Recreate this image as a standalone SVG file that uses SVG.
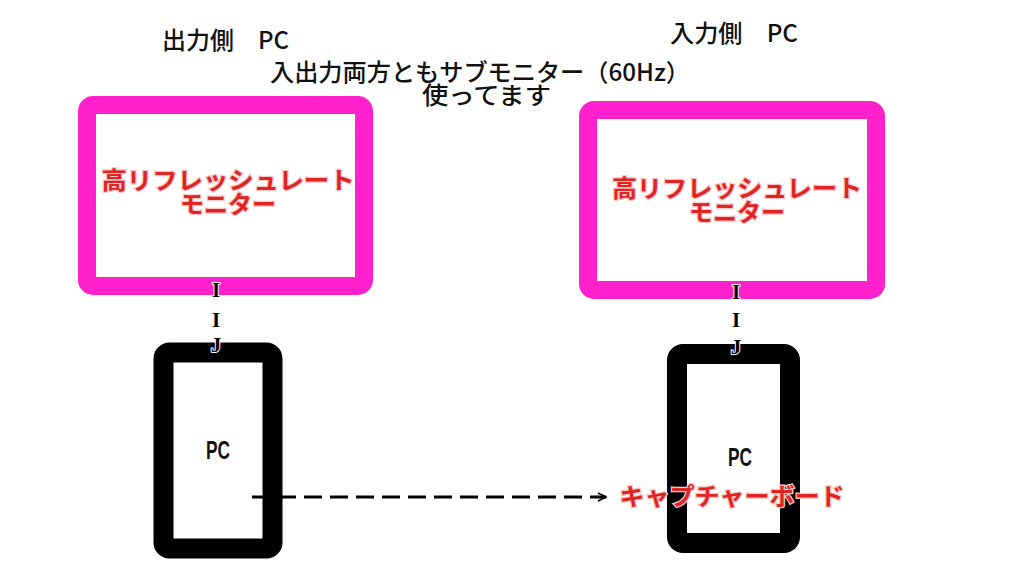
<svg xmlns="http://www.w3.org/2000/svg" width="1024" height="576" viewBox="0 0 1024 576">
<style>
.mon{fill:none;stroke:#ff22cc;stroke-width:18}
.pc{fill:none;stroke:#000;stroke-width:20}
.lbl{font-family:"Noto Sans CJK JP","Noto Sans",sans-serif;font-size:24px;font-weight:500;fill:#111}
.red{font-family:"Noto Sans CJK JP","Noto Sans",sans-serif;font-size:24px;font-weight:700;fill:#e02424;stroke:#f6caca;stroke-width:2.5;paint-order:stroke;text-anchor:middle}
.pcl{font-family:"Liberation Sans Narrow","Liberation Sans",sans-serif;font-size:25px;font-weight:700;fill:#111;text-anchor:middle}
.ij{font-family:"Liberation Serif",serif;font-size:21px;font-weight:700;fill:#000;stroke:#fff;stroke-width:2;paint-order:stroke;text-anchor:middle}
</style>
<defs>
<marker id="ah" viewBox="0 0 10 10" refX="9" refY="5" markerWidth="10" markerHeight="10" markerUnits="userSpaceOnUse" orient="auto">
<path d="M1,1 L9,5 L1,9" fill="none" stroke="#000" stroke-width="1.6"/>
</marker>
</defs>
<rect width="1024" height="576" fill="#fff"/>
<g id="titles">
<text class="lbl" x="162" y="49" textLength="127" lengthAdjust="spacingAndGlyphs">出力側　PC</text>
<text class="lbl" x="670" y="42" textLength="128" lengthAdjust="spacingAndGlyphs">入力側　PC</text>
<text class="lbl" x="270" y="81" textLength="420" lengthAdjust="spacingAndGlyphs">入出力両方ともサブモニター（60Hz）</text>
<text class="lbl" x="422" y="104" textLength="129" lengthAdjust="spacingAndGlyphs">使ってます</text>
</g>
<g id="monitor-left">
<rect class="mon" x="87" y="105" width="277" height="181" rx="6"/>
<text class="red" x="228" y="189" textLength="253" lengthAdjust="spacingAndGlyphs">高リフレッシュレート</text>
<text class="red" x="228" y="213">モニター</text>
</g>
<g id="monitor-right">
<rect class="mon" x="588" y="110" width="288" height="180" rx="6"/>
<text class="red" x="737" y="197" textLength="250" lengthAdjust="spacingAndGlyphs">高リフレッシュレート</text>
<text class="red" x="737" y="221">モニター</text>
</g>
<g id="pc-left">
<rect class="pc" x="163.5" y="352.5" width="109" height="196" rx="6"/>
<text class="pcl" x="218" y="459" textLength="24" lengthAdjust="spacingAndGlyphs">PC</text>
</g>
<g id="pc-right">
<rect class="pc" x="677" y="354" width="113" height="189" rx="6"/>
<text class="pcl" x="740" y="466" textLength="24" lengthAdjust="spacingAndGlyphs">PC</text>
</g>
<g id="capture-board">
<text class="red" x="732" y="505" textLength="225" lengthAdjust="spacingAndGlyphs">キャプチャーボード</text>
</g>
<g id="connectors">
<text class="ij" x="216" y="297">I</text>
<text class="ij" x="216" y="327">I</text>
<text class="ij" x="216" y="352">J</text>
<text class="ij" x="736" y="299">I</text>
<text class="ij" x="736" y="327">I</text>
<text class="ij" x="736" y="354">J</text>
<line x1="252" y1="497" x2="606" y2="497" stroke="#000" stroke-width="3" stroke-dasharray="18,8" marker-end="url(#ah)"/>
</g>
</svg>
